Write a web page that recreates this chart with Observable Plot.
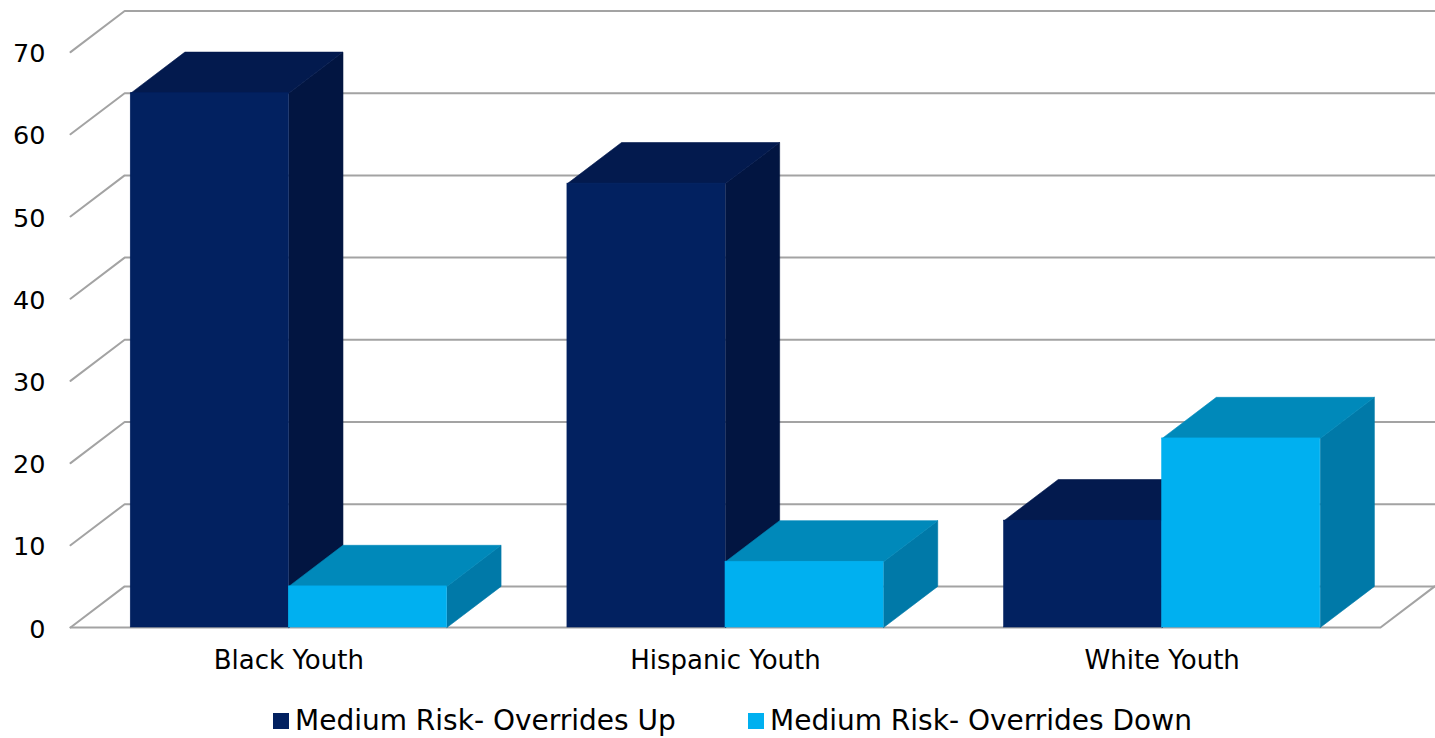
<!DOCTYPE html>
<html>
<head>
<meta charset="utf-8">
<script src="https://cdn.jsdelivr.net/npm/d3@7"></script>
<script src="https://cdn.jsdelivr.net/npm/@observablehq/plot@0.6"></script>
<style>
  html, body { margin: 0; padding: 0; background: #fff; }
  body { width: 1435px; height: 738px; overflow: hidden; font-family: "DejaVu Sans", sans-serif; }
  #chart svg { display: block; }
  #legend { position: relative; height: 48px; }
  .item { position: absolute; top: 6px; display: flex; align-items: center; height: 48px; font-size: 28px; color: #000; white-space: nowrap; }
  .sw { width: 16px; height: 16px; margin-right: 6px; margin-top: 2px; }
</style>
</head>
<body>
<div id="chart"></div>
<div id="legend"></div>
<script>
// Categories, series and axis ticks
const categories = ["Black Youth", "Hispanic Youth", "White Youth"];
const seriesNames = ["Medium Risk- Overrides Up", "Medium Risk- Overrides Down"];
const overridesUp = [65, 54, 13];
const overridesDown = [5, 8, 23];
const yTicks = [0, 10, 20, 30, 40, 50, 60, 70];

// Face colours per series: front, top, side
const palette = [
  {front: "#022160", top: "#031a4e", side: "#021541"},
  {front: "#00b0f0", top: "#0089ba", side: "#0079a8"}
];

// 3D depth offset, in data units (x: category widths, y: value units)
const DX = 0.124, DY = 5;
const BAR = 0.362;           // bar width in category units
const nCat = categories.length;

// Build bar records
const bars = [];
categories.forEach((c, i) => {
  [overridesUp[i], overridesDown[i]].forEach((v, s) => {
    const x1 = i + 0.5 + (s === 0 ? -BAR : 0);
    bars.push({cat: c, series: s, value: v, x1, x2: x1 + BAR, ...palette[s]});
  });
});

// Side and top faces as closed polygons
const sides = [], tops = [];
bars.forEach((b, k) => {
  const sp = [[b.x2, 0], [b.x2 + DX, DY], [b.x2 + DX, b.value + DY], [b.x2, b.value], [b.x2, 0]];
  sp.forEach(([x, y]) => sides.push({id: "s" + k, x, y, fill: b.side}));
  const tp = [[b.x1, b.value], [b.x2, b.value], [b.x2 + DX, b.value + DY], [b.x1 + DX, b.value + DY], [b.x1, b.value]];
  tp.forEach(([x, y]) => tops.push({id: "t" + k, x, y, fill: b.top}));
});

// Wall gridlines: left diagonal plus back line for each tick, floor edges
const grid = [];
yTicks.forEach(t => {
  grid.push({id: "g" + t, x: 0, y: t}, {id: "g" + t, x: DX, y: t + DY}, {id: "g" + t, x: nCat + DX, y: t + DY});
});
grid.push({id: "front", x: 0, y: 0}, {id: "front", x: nCat, y: 0}, {id: "front", x: nCat + DX, y: DY});

const chart = Plot.plot({
  width: 1435,
  height: 690,
  margin: 0,
  x: {type: "linear", domain: [0, nCat], range: [70, 1380], axis: null},
  y: {type: "linear", domain: [0, 70], range: [627, 51.6], axis: null},
  color: {type: "identity"},
  style: {fontFamily: "DejaVu Sans, sans-serif", background: "#fff"},
  marks: [
    Plot.line(grid, {x: "x", y: "y", z: "id", stroke: "#a3a3a3", strokeWidth: 2}),
    Plot.line(sides, {x: "x", y: "y", z: "id", fill: "fill", stroke: "fill", strokeWidth: 0.6, curve: "linear"}),
    Plot.line(tops, {x: "x", y: "y", z: "id", fill: "fill", stroke: "fill", strokeWidth: 0.6, curve: "linear"}),
    Plot.rect(bars, {x1: "x1", x2: "x2", y1: 0, y2: "value", fill: "front", stroke: "front", strokeWidth: 0.6}),
    Plot.text(yTicks, {x: 0, y: d => d, text: d => String(d), dx: -25, dy: 2, textAnchor: "end", fontSize: 25.5, fill: "#000"}),
    Plot.text(categories, {x: (d, i) => i + 0.5, y: 0, text: d => d, dy: 33, fontSize: 26, fill: "#000"})
  ]
});
document.getElementById("chart").appendChild(chart);

// Legend below the chart
const legend = document.getElementById("legend");
const legendX = [273, 748];
seriesNames.forEach((name, s) => {
  const item = document.createElement("div");
  item.className = "item";
  item.style.left = legendX[s] + "px";
  const sw = document.createElement("span");
  sw.className = "sw";
  sw.style.background = palette[s].front;
  const label = document.createElement("span");
  label.textContent = name;
  item.appendChild(sw);
  item.appendChild(label);
  legend.appendChild(item);
});
</script>
</body>
</html>
